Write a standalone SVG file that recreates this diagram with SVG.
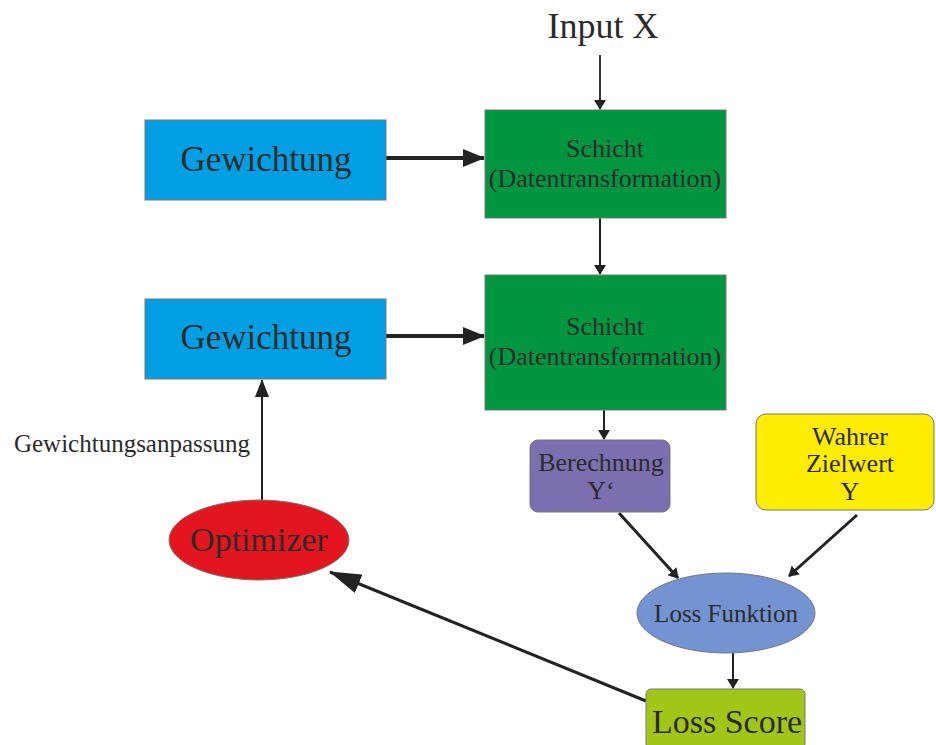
<svg xmlns="http://www.w3.org/2000/svg" width="936" height="745" viewBox="0 0 936 745">
  <style>
    .t { font-family: "Liberation Serif", "Times New Roman", serif; fill: #2b2b2b; text-anchor: middle; }
    .box { stroke: #777; stroke-width: 1; }
    .ln { stroke: #222; stroke-width: 2.5; fill: none; }
    .thin { stroke: #222; stroke-width: 2; fill: none; }
  </style>
  <defs>
    <marker id="ah" markerWidth="10" markerHeight="12" refX="9" refY="6" orient="auto" markerUnits="userSpaceOnUse">
      <path d="M0,0 L10,6 L0,12 Z" fill="#222"/>
    </marker>
    <marker id="ahMid" markerWidth="22" markerHeight="18" refX="21" refY="9" orient="auto" markerUnits="userSpaceOnUse">
      <path d="M0,0 L22,9 L0,18 Z" fill="#222"/>
    </marker>
    <marker id="ahUp" markerWidth="18" markerHeight="14" refX="17" refY="7" orient="auto" markerUnits="userSpaceOnUse">
      <path d="M0,0 L18,7 L0,14 Z" fill="#222"/>
    </marker>
    <marker id="ahBig" markerWidth="32" markerHeight="20" refX="31" refY="10" orient="auto" markerUnits="userSpaceOnUse">
      <path d="M0,0 L32,10 L0,20 Z" fill="#222"/>
    </marker>
  </defs>
  <rect width="936" height="745" fill="#fff"/>

  <g id="connectors">
    <line class="thin" x1="600" y1="55" x2="600" y2="109" marker-end="url(#ah)" style="stroke-width:1.8"/>
    <line class="ln" x1="386" y1="158" x2="484" y2="158" marker-end="url(#ahMid)" style="stroke-width:4"/>
    <line class="thin" x1="600" y1="218" x2="600" y2="274" marker-end="url(#ah)"/>
    <line class="ln" x1="386" y1="336" x2="484" y2="336" marker-end="url(#ahMid)" style="stroke-width:4"/>
    <line class="thin" x1="604" y1="410" x2="604" y2="439" marker-end="url(#ah)"/>
    <line class="ln" x1="619" y1="513" x2="678" y2="578" marker-end="url(#ah)" style="stroke-width:3"/>
    <line class="ln" x1="857" y1="515" x2="789" y2="576" marker-end="url(#ah)" style="stroke-width:3"/>
    <line class="thin" x1="733" y1="653" x2="733" y2="688" marker-end="url(#ah)"/>
    <line class="ln" x1="646" y1="701" x2="330" y2="572" marker-end="url(#ahBig)" style="stroke-width:3"/>
    <line class="thin" x1="262" y1="500" x2="262" y2="380" marker-end="url(#ahUp)"/>
  </g>

  <g id="input">
    <text class="t" x="603" y="38" font-size="36">Input X</text>
  </g>

  <g id="gewichtung1">
    <rect class="box" x="145" y="120" width="241" height="80" fill="#009fe3"/>
    <text class="t" x="266" y="171" font-size="35">Gewichtung</text>
  </g>

  <g id="schicht1">
    <rect class="box" x="485" y="110" width="241" height="108" fill="#009640"/>
    <text class="t" x="605" y="157" font-size="26">Schicht</text>
    <text class="t" x="605" y="187" font-size="26">(Datentransformation)</text>
  </g>

  <g id="gewichtung2">
    <rect class="box" x="145" y="299" width="241" height="80" fill="#009fe3"/>
    <text class="t" x="266" y="349" font-size="35">Gewichtung</text>
  </g>

  <g id="schicht2">
    <rect class="box" x="485" y="275" width="241" height="135" fill="#009640"/>
    <text class="t" x="605" y="335" font-size="26">Schicht</text>
    <text class="t" x="605" y="365" font-size="26">(Datentransformation)</text>
  </g>

  <g id="berechnung">
    <rect class="box" x="530" y="440" width="140" height="72" rx="8" fill="#7b6faf"/>
    <text class="t" x="601" y="471" font-size="26">Berechnung</text>
    <text class="t" x="601" y="499" font-size="26">Y‘</text>
  </g>

  <g id="zielwert">
    <rect class="box" x="756" y="414" width="178" height="96" rx="10" fill="#ffed00"/>
    <text class="t" x="850" y="445" font-size="26">Wahrer</text>
    <text class="t" x="850" y="472" font-size="26">Zielwert</text>
    <text class="t" x="850" y="500" font-size="26">Y</text>
  </g>

  <g id="lossFunktion">
    <ellipse class="box" cx="726" cy="613" rx="89" ry="40" fill="#7393d3"/>
    <text class="t" x="726" y="622" font-size="25">Loss Funktion</text>
  </g>

  <g id="lossScore">
    <rect class="box" x="646" y="689" width="159" height="60" rx="5" fill="#a2c617"/>
    <text class="t" x="727" y="733" font-size="34">Loss Score</text>
  </g>

  <g id="optimizer">
    <ellipse class="box" cx="259" cy="540" rx="90" ry="40" fill="#e3161f"/>
    <text class="t" x="259" y="551" font-size="34">Optimizer</text>
  </g>

  <g id="anpassungLabel">
    <text class="t" x="132" y="452" font-size="25">Gewichtungsanpassung</text>
  </g>
</svg>
